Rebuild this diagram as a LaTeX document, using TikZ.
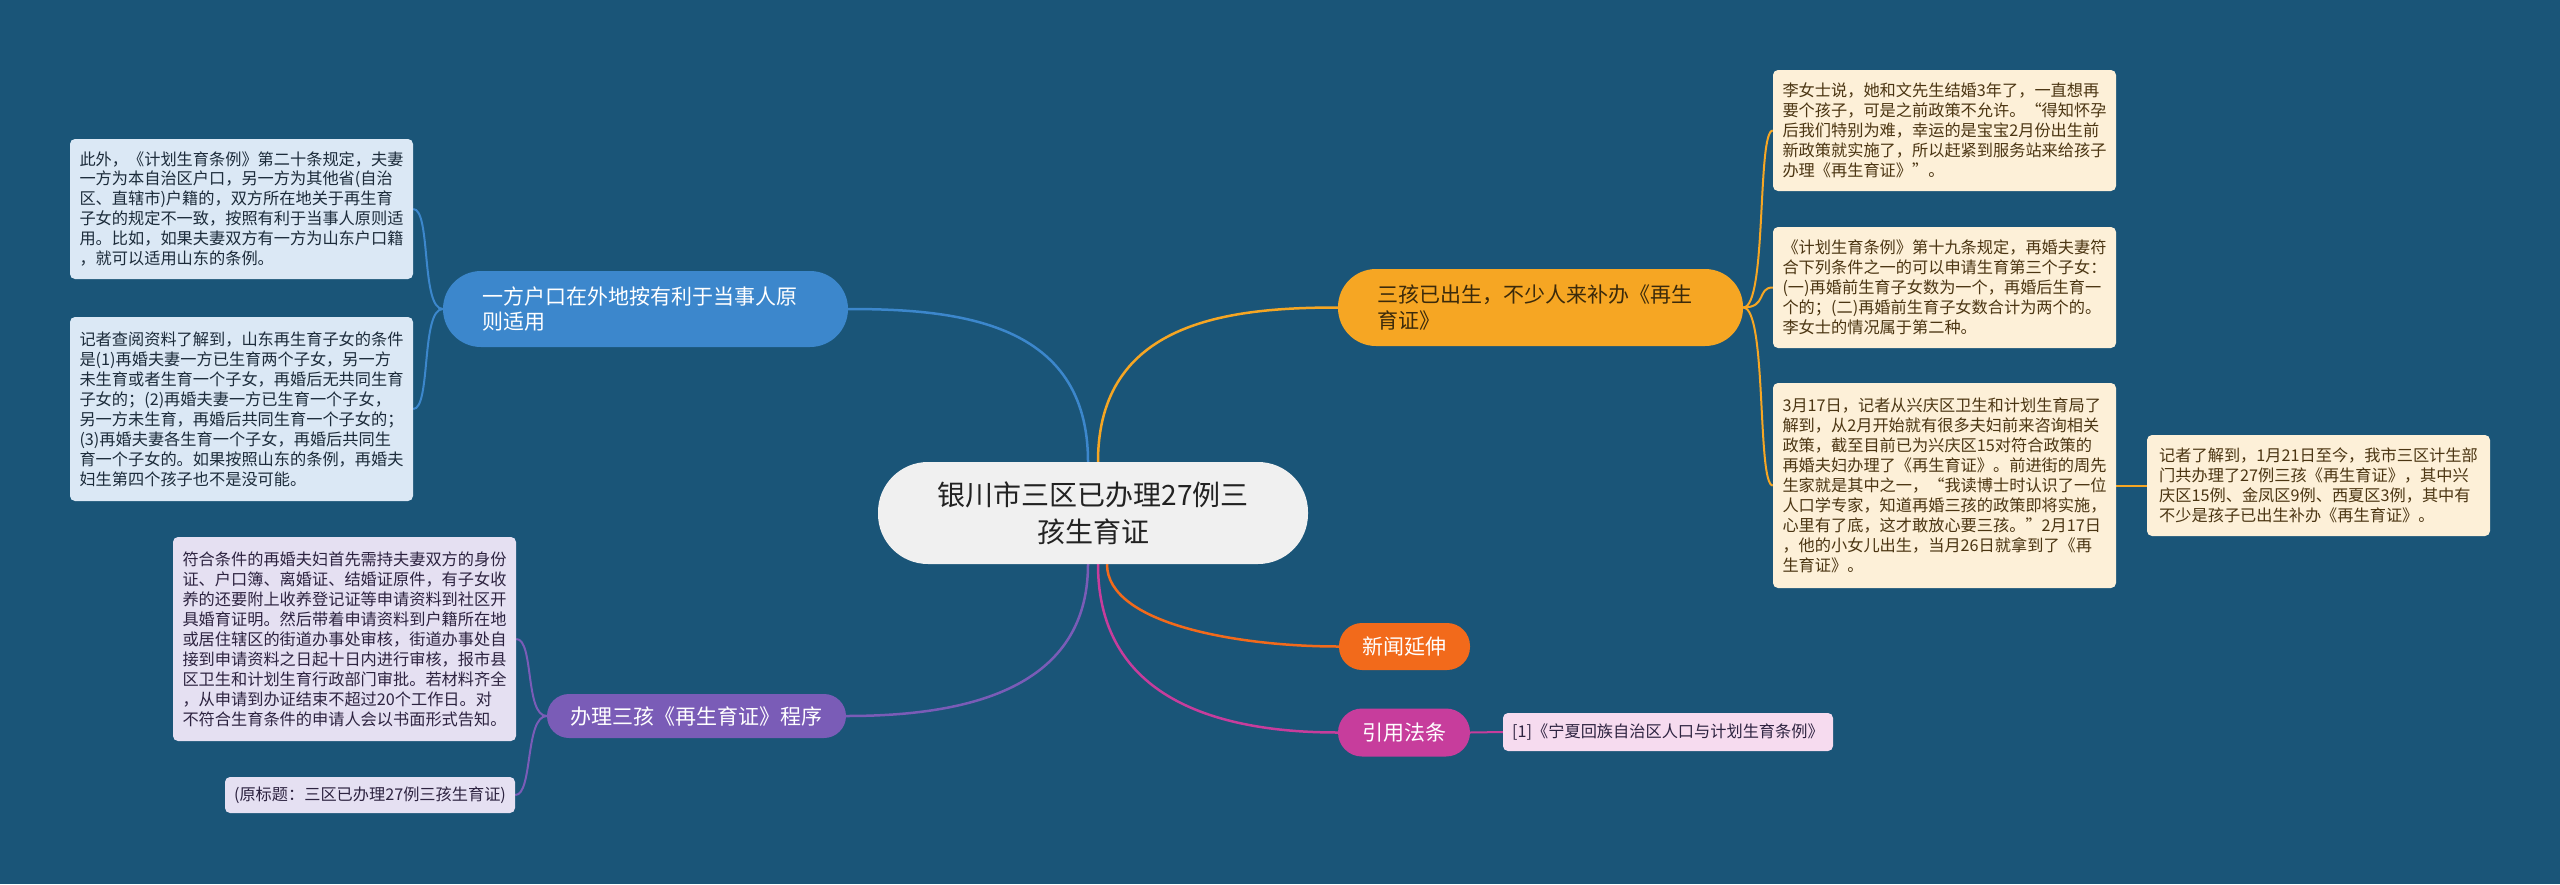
\documentclass[tikz,border=0pt]{standalone}
\usepackage{fontspec}
\newfontfamily\cjk{Noto Sans CJK SC}
\usetikzlibrary{calc}
\definecolor{bgc}{HTML}{1A5578}
\definecolor{cfill}{HTML}{F0F0F0}
\definecolor{ctext}{HTML}{222222}
\definecolor{cblue}{HTML}{3C87CC}
\definecolor{cbleaf}{HTML}{DBE8F5}
\definecolor{cbtext}{HTML}{1C2B3A}
\definecolor{corange}{HTML}{F6A623}
\definecolor{cotext}{HTML}{3B2A0B}
\definecolor{coleaf}{HTML}{FDF0D8}
\definecolor{coltext}{HTML}{4B3512}
\definecolor{cred}{HTML}{F26A1B}
\definecolor{cmag}{HTML}{C73D9C}
\definecolor{cmleaf}{HTML}{F6DBEF}
\definecolor{cpur}{HTML}{7A5CB7}
\definecolor{cpleaf}{HTML}{E5E0F2}
\definecolor{cptext}{HTML}{2D2340}
\pgfdeclarelayer{back}
\pgfsetlayers{back,main}
\tikzset{
  leaf/.style={rounded corners=5pt, inner sep=0pt, align=left,
    font={\cjk\fontsize{16.2}{20}\selectfont}},
  bleaf/.style={leaf, fill=cbleaf, text=cbtext},
  oleaf/.style={leaf, fill=coleaf, text=coltext},
  pleaf/.style={leaf, fill=cpleaf, text=cptext},
  mleaf/.style={leaf, fill=cmleaf, text=cptext},
  topic/.style={rounded corners=22pt, inner sep=0pt, align=left,
    font={\cjk\fontsize{21}{25.7}\selectfont}},
  mainline/.style={line width=2.5pt},
  subline/.style={line width=2pt},
}
\begin{document}
\begin{tikzpicture}[x=1pt,y=-1pt]
\begin{pgfonlayer}{back}
\fill[bgc] (0,0) rectangle (2560,884);
\end{pgfonlayer}
\useasboundingbox (0,0) rectangle (2560,884);

% central
\node[rounded corners=50pt, fill=cfill, text=ctext, minimum width=430pt, minimum height=102pt,
  inner sep=0pt, align=center, font={\cjk\fontsize{28}{37}\selectfont}] (C) at (1093,513)
  {银川市三区已办理27例三\\孩生育证};

% topics
\node[topic, fill=cblue, text=white, minimum width=405pt, minimum height=76pt, rounded corners=38pt] (B) at (645.5,309)
  {一方户口在外地按有利于当事人原\hspace*{12pt}\\则适用};
\node[topic, fill=corange, text=cotext, minimum width=405pt, minimum height=77pt, rounded corners=38pt] (O) at (1540.5,307.5)
  {三孩已出生，不少人来补办《再生\hspace*{12pt}\\育证》};
\node[topic, fill=cred, text=white, minimum width=131pt, minimum height=47pt, rounded corners=23pt] (N) at (1404.5,646.5)
  {新闻延伸};
\node[topic, fill=cmag, text=white, minimum width=132pt, minimum height=48pt, rounded corners=24pt] (R) at (1404,732.5)
  {引用法条};
\node[topic, fill=cpur, text=white, minimum width=299pt, minimum height=44pt, rounded corners=22pt] (U) at (696.5,716)
  {办理三孩《再生育证》程序};

% blue leaves
\node[bleaf, minimum width=343pt, minimum height=140pt] (BL1) at (241.5,209)
  {此外，《计划生育条例》第二十条规定，夫妻\\
一方为本自治区户口，另一方为其他省(自治\\
区、直辖市)户籍的，双方所在地关于再生育\\
子女的规定不一致，按照有利于当事人原则适\\
用。比如，如果夫妻双方有一方为山东户口籍\\
，就可以适用山东的条例。};
\node[bleaf, minimum width=343pt, minimum height=184pt] (BL2) at (241.5,409)
  {记者查阅资料了解到，山东再生育子女的条件\\
是(1)再婚夫妻一方已生育两个子女，另一方\\
未生育或者生育一个子女，再婚后无共同生育\\
子女的；(2)再婚夫妻一方已生育一个子女，\\
另一方未生育，再婚后共同生育一个子女的；\\
(3)再婚夫妻各生育一个子女，再婚后共同生\\
育一个子女的。如果按照山东的条例，再婚夫\\
妇生第四个孩子也不是没可能。};

% purple leaves
\node[pleaf, minimum width=343pt, minimum height=204pt] (UL1) at (344.5,639)
  {符合条件的再婚夫妇首先需持夫妻双方的身份\\
证、户口簿、离婚证、结婚证原件，有子女收\\
养的还要附上收养登记证等申请资料到社区开\\
具婚育证明。然后带着申请资料到户籍所在地\\
或居住辖区的街道办事处审核，街道办事处自\\
接到申请资料之日起十日内进行审核，报市县\\
区卫生和计划生育行政部门审批。若材料齐全\\
，从申请到办证结束不超过20个工作日。对\\
不符合生育条件的申请人会以书面形式告知。};
\node[pleaf, minimum width=290pt, minimum height=36pt] (UL2) at (370,795)
  {(原标题：三区已办理27例三孩生育证)};

% orange leaves
\node[oleaf, minimum width=343pt, minimum height=121pt] (OL1) at (1944.5,130.5)
  {李女士说，她和文先生结婚3年了，一直想再\\
要个孩子，可是之前政策不允许。“得知怀孕\\
后我们特别为难，幸运的是宝宝2月份出生前\\
新政策就实施了，所以赶紧到服务站来给孩子\\
办理《再生育证》”。};
\node[oleaf, minimum width=343pt, minimum height=121pt] (OL2) at (1944.5,287.5)
  {《计划生育条例》第十九条规定，再婚夫妻符\\
合下列条件之一的可以申请生育第三个子女：\\
(一)再婚前生育子女数为一个，再婚后生育一\\
个的；(二)再婚前生育子女数合计为两个的。\\
李女士的情况属于第二种。};
\node[oleaf, minimum width=343pt, minimum height=205pt] (OL3) at (1944.5,485.5)
  {3月17日，记者从兴庆区卫生和计划生育局了\\
解到，从2月开始就有很多夫妇前来咨询相关\\
政策，截至目前已为兴庆区15对符合政策的\\
再婚夫妇办理了《再生育证》。前进街的周先\\
生家就是其中之一，“我读博士时认识了一位\\
人口学专家，知道再婚三孩的政策即将实施，\\
心里有了底，这才敢放心要三孩。”2月17日\\
，他的小女儿出生，当月26日就拿到了《再\\
生育证》。};
\node[oleaf, minimum width=343pt, minimum height=101pt] (OL4) at (2318.5,485.5)
  {记者了解到，1月21日至今，我市三区计生部\\
门共办理了27例三孩《再生育证》，其中兴\\
庆区15例、金凤区9例、西夏区3例，其中有\\
不少是孩子已出生补办《再生育证》。};

% magenta leaf
\node[mleaf, minimum width=330pt, minimum height=38pt] (P) at (1668,732)
  {[1]《宁夏回族自治区人口与计划生育条例》};

\begin{pgfonlayer}{back}
% main branches
\draw[mainline, cblue] ([xshift=-5pt]C.north) .. controls +(0,-140) and +(110,0) .. (B.east);
\draw[mainline, corange] ([xshift=5pt]C.north) .. controls +(0,-140) and +(-110,0) .. (O.west);
\draw[mainline, cpur] ([xshift=-5pt]C.south) .. controls +(0,130) and +(110,0) .. (U.east);
\draw[mainline, cmag] ([xshift=5pt]C.south) .. controls +(0,140) and +(-110,0) .. (R.west);
\draw[mainline, cred] ([xshift=14pt]C.south) .. controls +(0,60) and +(-100,0) .. (N.west);
% sub branches
\draw[subline, cblue] (B.west) .. controls +(-22,0) and +(18,0) .. (BL1.east);
\draw[subline, cblue] (B.west) .. controls +(-22,0) and +(18,0) .. (BL2.east);
\draw[subline, cpur] (U.west) .. controls +(-22,0) and +(18,0) .. (UL1.east);
\draw[subline, cpur] (U.west) .. controls +(-22,0) and +(18,0) .. (UL2.east);
\draw[subline, corange] (O.east) .. controls +(24,0) and +(-16,0) .. (OL1.west);
\draw[subline, corange] (O.east) .. controls +(24,0) and +(-16,0) .. (OL2.west);
\draw[subline, corange] (O.east) .. controls +(24,0) and +(-16,0) .. (OL3.west);
\draw[subline, corange] (OL3.east) -- (OL4.west);
\draw[subline, cmag] (R.east) -- (P.west);
\end{pgfonlayer}
\end{tikzpicture}
\end{document}
